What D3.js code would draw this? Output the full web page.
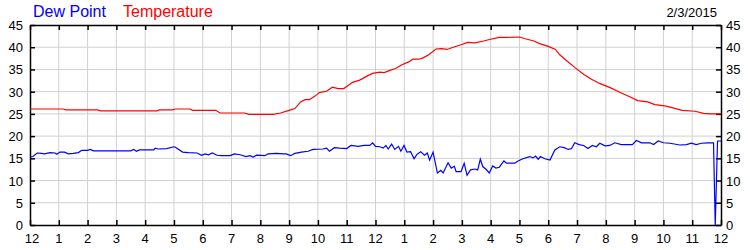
<!DOCTYPE html>
<html>
<head>
<meta charset="utf-8">
<script src="https://cdn.jsdelivr.net/npm/d3@7"></script>
<style>
  body { margin: 0; background: #fff; }
  text { font-family: "Liberation Sans", Arial, sans-serif; }
</style>
</head>
<body>
<div id="svg-holder"></div>
<script>
// hour of day (0-24) and value
let temperature = [
    [0,26.1],[1.15,26.1],[1.25,25.9],[2.35,25.9],[2.45,25.7],[4.4,25.7],[4.5,25.9],[4.95,25.9],
    [5.05,26.1],[5.55,26.1],[5.65,25.8],[6.45,25.8],[6.6,25.2],[7.45,25.2],[7.6,24.9],[8.45,24.9],
    [8.7,25.2],[9.0,25.8],[9.2,26.2],[9.4,27.7],[9.55,28.2],[9.7,28.2],[9.9,29.0],[10.05,29.8],
    [10.3,30.1],[10.5,31.0],[10.7,30.7],[10.9,30.7],[11.05,31.4],[11.2,32.1],[11.45,32.6],[11.7,33.5],
    [11.9,34.1],[12.15,34.4],[12.3,34.3],[12.5,34.8],[12.7,35.2],[12.9,36.0],[13.15,36.7],[13.3,37.3],
    [13.5,37.3],[13.65,37.6],[13.85,38.3],[14.1,39.6],[14.3,39.7],[14.48,39.5],[14.7,40.0],[15.0,40.6],
    [15.2,41.1],[15.45,41.0],[15.75,41.4],[16.0,41.8],[16.3,42.2],[16.55,42.2],[17.0,42.3],[17.2,41.9],
    [17.5,41.4],[17.7,40.8],[18.0,40.2],[18.25,39.5],[18.4,38.3],[18.65,36.9],[18.95,35.3],[19.25,33.8],
    [19.5,32.8],[19.8,31.8],[20.15,30.9],[20.5,29.8],[20.85,28.8],[21.1,28.0],[21.45,27.7],[21.7,27.1],
    [22.05,26.8],[22.3,26.4],[22.65,25.8],[23.1,25.6],[23.4,25.1],[23.65,25.0],[24,25.0]
]

let dewPoint = [
    [0,15.3],[0.1,15.4],[0.25,16.2],[0.4,16.1],[0.5,16.0],[0.7,16.3],[0.87,16.2],[0.93,15.9],
    [1.04,16.4],[1.2,16.4],[1.33,16.0],[1.5,16.1],[1.68,16.3],[1.8,16.8],[2.0,16.8],[2.1,17.0],
    [2.2,16.7],[3.5,16.7],[3.6,17.0],[3.7,16.6],[3.8,16.9],[4.3,16.9],[4.35,17.3],[4.45,17.1],
    [4.75,17.2],[5.0,17.6],[5.05,17.5],[5.3,16.4],[5.5,16.3],[5.8,16.2],[5.96,15.7],[6.08,16.0],
    [6.2,15.8],[6.33,16.2],[6.5,15.7],[6.65,15.6],[6.95,15.6],[7.1,16.0],[7.3,15.8],[7.5,15.4],
    [7.64,15.6],[7.75,15.3],[7.87,15.7],[8.15,15.6],[8.27,16.0],[8.56,16.1],[8.8,16.0],[8.9,16.0],
    [9.05,15.6],[9.2,16.1],[9.43,16.4],[9.66,16.6],[9.83,17.0],[10.17,17.1],[10.3,17.3],[10.4,16.6],
    [10.57,17.4],[10.75,17.3],[11.0,17.2],[11.15,17.9],[11.4,17.7],[11.6,17.9],[11.8,17.9],[11.9,18.5],
    [12.0,17.7],[12.15,17.6],[12.27,17.3],[12.36,17.9],[12.44,17.1],[12.56,18.2],[12.67,17.0],[12.8,17.7],
    [12.88,16.6],[12.99,17.9],[13.09,16.4],[13.22,16.5],[13.34,14.9],[13.44,15.9],[13.57,16.5],[13.7,15.7],
    [13.8,16.2],[13.88,14.6],[14.0,16.4],[14.15,11.7],[14.27,12.3],[14.35,11.7],[14.52,14.0],[14.63,12.8],
    [14.74,13.2],[14.8,12.0],[14.97,12.0],[15.08,13.9],[15.18,11.2],[15.3,12.4],[15.45,12.6],[15.55,12.4],
    [15.64,14.8],[15.73,13.1],[15.83,12.6],[15.95,11.7],[16.07,13.3],[16.18,12.8],[16.3,13.0],[16.46,14.4],
    [16.55,13.9],[16.84,13.9],[16.95,14.4],[17.12,14.9],[17.36,15.4],[17.47,15.1],[17.56,15.5],[17.65,14.8],
    [17.73,15.4],[17.88,14.9],[18.06,14.6],[18.23,16.9],[18.4,17.6],[18.55,17.4],[18.7,17.0],[18.81,17.2],
    [18.92,18.5],[19.07,18.1],[19.23,17.9],[19.38,17.2],[19.53,17.9],[19.67,17.6],[19.79,18.4],[19.97,17.8],
    [20.14,17.9],[20.31,18.5],[20.54,18.1],[20.92,18.1],[21.06,19.0],[21.24,18.5],[21.53,18.5],[21.66,18.1],
    [21.82,18.9],[22.0,18.5],[22.23,18.4],[22.57,18.0],[22.8,18.1],[22.97,18.4],[23.14,18.1],[23.32,18.4],
    [23.55,18.5],[23.74,18.5],[23.8,0],[23.88,18.9],[24,18.9]
]

let hourLabels = ['12','1','2','3','4','5','6','7','8','9','10','11',
                  '12','1','2','3','4','5','6','7','8','9','10','11','12']
let yTicks = [0,5,10,15,20,25,30,35,40,45]
let dateLabel = '2/3/2015'

let svg = d3.select("#svg-holder").append('svg'),
    width = 750,
    height = 250

svg.attr("width", width)
    .attr("height", height)

let plotLeft = 30, plotRight = 721, plotTop = 25, plotBottom = 225

let x = d3.scaleLinear()
    .domain([0, 24])
    .range([plotLeft, plotRight])

let y = d3.scaleLinear()
    .domain([0, 45])
    .range([plotBottom, plotTop])

// grid
svg.append('g')
    .selectAll('line')
    .data(d3.range(1, 24))
    .enter()
    .append('line')
        .attr('x1', d => x(d))
        .attr('x2', d => x(d))
        .attr('y1', plotTop)
        .attr('y2', plotBottom)
        .attr('stroke', '#d0d0d0')

svg.append('g')
    .selectAll('line')
    .data(yTicks.slice(1, -1))
    .enter()
    .append('line')
        .attr('x1', plotLeft)
        .attr('x2', plotRight)
        .attr('y1', d => y(d))
        .attr('y2', d => y(d))
        .attr('stroke', '#d0d0d0')

// axes (ticks point inwards)
let hours = d3.range(0, 25)
svg.append('g')
    .attr('transform', `translate(0,${plotBottom})`)
    .call(d3.axisTop(x).tickValues(hours).tickSize(5).tickSizeOuter(0).tickFormat(''))
svg.append('g')
    .attr('transform', `translate(0,${plotTop})`)
    .call(d3.axisBottom(x).tickValues(hours).tickSize(5).tickSizeOuter(0).tickFormat(''))
svg.append('g')
    .attr('transform', `translate(${plotLeft},0)`)
    .call(d3.axisRight(y).tickValues(yTicks).tickSize(5).tickSizeOuter(0).tickFormat(''))
svg.append('g')
    .attr('transform', `translate(${plotRight},0)`)
    .call(d3.axisLeft(y).tickValues(yTicks).tickSize(5).tickSizeOuter(0).tickFormat(''))

svg.selectAll('.domain').attr('stroke', '#000').attr('stroke-width', 1.5)
svg.selectAll('.tick line').attr('stroke', '#000').attr('stroke-width', 1.5)

// tick labels
svg.append('g')
    .selectAll('text')
    .data(hourLabels)
    .enter()
    .append('text')
        .attr('x', (d, i) => x(i) + (i == 0 ? 2 : 0))
        .attr('y', 243)
        .attr('text-anchor', 'middle')
        .style('font-size', '13px')
        .text(d => d)

svg.append('g')
    .selectAll('text')
    .data(yTicks)
    .enter()
    .append('text')
        .attr('x', 23)
        .attr('y', d => y(d) + 5)
        .attr('text-anchor', 'end')
        .style('font-size', '13px')
        .text(d => d)

svg.append('g')
    .selectAll('text')
    .data(yTicks)
    .enter()
    .append('text')
        .attr('x', 726)
        .attr('y', d => y(d) + 5)
        .style('font-size', '13px')
        .text(d => d)

// series
let line = d3.line()
    .x(d => x(d[0]))
    .y(d => y(d[1]))

svg.append('path')
    .attr('d', line(temperature))
    .attr('stroke', '#ff0000')
    .attr('stroke-width', 1.2)
    .attr('fill', 'none')

svg.append('path')
    .attr('d', line(dewPoint))
    .attr('stroke', '#0000ff')
    .attr('stroke-width', 1.2)
    .attr('fill', 'none')

// legend and date
svg.append('text')
    .attr('x', 33)
    .attr('y', 17)
    .attr('fill', '#0000ff')
    .style('font-size', '16px')
    .text('Dew Point')

svg.append('text')
    .attr('x', 123)
    .attr('y', 17)
    .attr('fill', '#ff0000')
    .style('font-size', '16px')
    .text('Temperature')

svg.append('text')
    .attr('x', 717)
    .attr('y', 17)
    .attr('text-anchor', 'end')
    .style('font-size', '13px')
    .text(dateLabel)
</script>
</body>
</html>
